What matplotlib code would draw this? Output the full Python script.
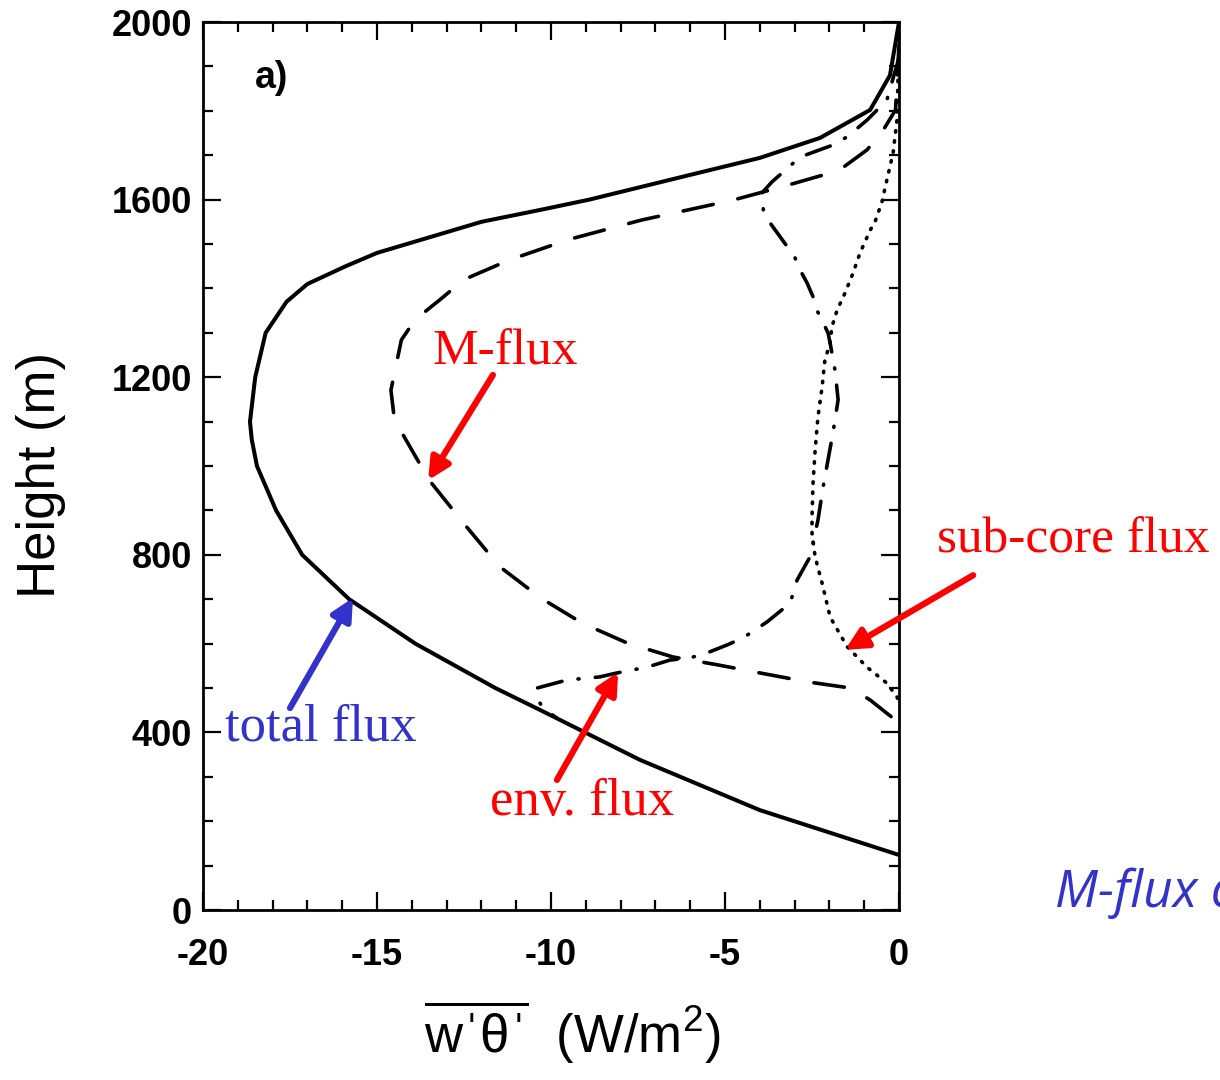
import numpy as np
import matplotlib.pyplot as plt
from matplotlib.ticker import MultipleLocator

# total flux (solid)
total_x = [0, -0.26, -0.83, -2.27, -4.0, -6.3, -8.9, -10.3, -12.0, -13.5, -15.0, -15.9, -17.0,
           -17.6, -18.2, -18.5, -18.65, -18.6, -18.45, -17.9, -17.15, -15.8, -13.9, -11.6,
           -10.3, -7.44, -4.0, 0]
total_h = [2000, 1880, 1802, 1739, 1694, 1650, 1600, 1577, 1550, 1515, 1480, 1450, 1410,
           1370, 1300, 1200, 1100, 1060, 1000, 900, 800, 700, 600, 500,
           450, 338, 225, 124]

# M-flux (dashed)
mflux_x = [0, -0.1, -0.49, -0.92, -1.6, -2.2, -3.4, -4.77, -5.7, -7.4, -9.5, -11.2, -12.5,
           -13.2, -13.9, -14.3, -14.6, -14.5, -13.5, -12.5, -11.47, -10.3, -9.1, -7.8,
           -6.5, -5.2, -4.0, -2.64, -1.4, -0.83, -0.17, 0]
mflux_h = [1950, 1802, 1752, 1712, 1673, 1655, 1628, 1599, 1583, 1554, 1510, 1464, 1420,
           1374, 1330, 1284, 1171, 1104, 968, 870, 773, 703, 646, 601,
           570, 552, 534, 514, 500, 473, 432, 394]

# env. flux (dash-dot)
env_x = [0, -0.35, -0.92, -1.5, -1.9, -2.84, -3.65, -3.94, -3.9, -3.7, -3.0, -2.84, -2.64,
         -2.47, -2.36, -2.04, -1.98, -1.84, -1.75, -1.9, -2.04, -2.18, -2.33, -2.41,
         -2.56, -2.93, -3.13, -3.79, -4.48, -4.94, -5.52, -6.0, -6.58, -7.24, -8.1,
         -8.6, -9.54, -10.4, -10.37, -10.23, -9.83]
env_h = [1920, 1824, 1779, 1741, 1723, 1696, 1640, 1615, 1577, 1547, 1471, 1441, 1412,
         1381, 1351, 1300, 1277, 1216, 1149, 1074, 1014, 953, 878, 849,
         795, 743, 691, 649, 613, 597, 579, 568, 563, 547, 534,
         525, 518, 500, 473, 455, 432]

# sub-core flux (dotted)
sub_x = [0, -0.06, -0.17, -0.35, -0.49, -0.69, -0.83, -1.12, -1.32, -1.55, -1.78, -1.93,
         -1.98, -2.13, -2.21, -2.33, -2.41, -2.47, -2.5, -2.5, -2.41, -2.21, -1.98,
         -1.49, -0.92, -0.35, -0.06, 0]
sub_h = [1960, 1779, 1705, 1644, 1595, 1550, 1531, 1480, 1435, 1390, 1351, 1313,
         1277, 1239, 1178, 1110, 1036, 962, 885, 849, 795, 736, 660,
         593, 547, 511, 480, 470]

# ----------------(figure)----------------

fig = plt.figure(figsize=(12.2, 10.8), dpi=100)
ax = fig.add_axes([0.1664, 0.1574, 0.5705, 0.8222])

lw = 2.6
ax.plot(total_x, total_h, color='black', lw=2.9, solid_joinstyle='round')
ax.plot(mflux_x, mflux_h, color='black', lw=lw, linestyle=(0, (8.5, 7)),
        dash_capstyle='round')
ax.plot(env_x, env_h, color='black', lw=lw, linestyle=(0, (7, 4.5, 0.3, 4.5)),
        dash_capstyle='round')
ax.plot(sub_x, sub_h, color='black', lw=lw, linestyle=(0, (0.4, 2.4)),
        dash_capstyle='round')

ax.set_xlim(-20, 0)
ax.set_ylim(0, 2000)
ax.xaxis.set_major_locator(MultipleLocator(5))
ax.xaxis.set_minor_locator(MultipleLocator(1))
ax.yaxis.set_major_locator(MultipleLocator(400))
ax.yaxis.set_minor_locator(MultipleLocator(100))
ax.tick_params(which='both', direction='in', top=True, right=True, width=1.6)
ax.tick_params(which='major', length=13)
ax.tick_params(which='minor', length=7)
ax.tick_params(axis='x', which='major', pad=20)
ax.tick_params(axis='y', which='major', pad=8)
for s in ax.spines.values():
    s.set_linewidth(2.0)

ax.set_xticks([-20, -15, -10, -5, 0])
ax.set_xticklabels(['-20', '-15', '-10', '-5', '0'])
for lab in ax.get_xticklabels() + ax.get_yticklabels():
    lab.set_fontfamily('Liberation Sans')
    lab.set_fontweight('bold')
    lab.set_fontsize(26)

ax.set_ylabel('Height (m)', fontsize=38, family='Liberation Sans')
ax.yaxis.set_label_coords(-0.197, 0.49)
ax.set_xlabel("$\\overline{\\mathregular{w\u02c8\u03b8\u02c8}}$  (W/m$^\\mathregular{2}$)",
              fontsize=38, family=['Liberation Sans', 'DejaVu Sans'])
ax.xaxis.set_label_coords(0.53, -0.1)

ax.text(-18.5, 1874, 'a)', fontsize=27, fontweight='bold', family='Liberation Sans',
        va='center', ha='left')

# ----------------(annotations)----------------

red = '#ff0000'
blue = '#3333cc'
arr = dict(arrowstyle='-|>', lw=4.5, mutation_scale=32, shrinkA=0, shrinkB=0)

ax.annotate('', xy=(-13.53, 968), xytext=(-11.67, 1205), arrowprops=dict(color=red, **arr))
ax.text(-11.32, 1257, 'M-flux', color=red, fontsize=37, family='Liberation Serif',
        ha='center', va='center')

ax.annotate('', xy=(-1.55, 586), xytext=(2.13, 754), arrowprops=dict(color=red, **arr),
            annotation_clip=False)
ax.text(5.0, 833, 'sub-core flux', color=red, fontsize=37, family='Liberation Serif',
        ha='center', va='center', clip_on=False)

ax.annotate('', xy=(-8.07, 536), xytext=(-9.83, 293), arrowprops=dict(color=red, **arr))
ax.text(-9.11, 243, 'env. flux', color=red, fontsize=38, family='Liberation Serif',
        ha='center', va='center')

ax.annotate('', xy=(-15.69, 703), xytext=(-17.5, 455), arrowprops=dict(color=blue, **arr))
ax.text(-19.37, 410, 'total flux', color=blue, fontsize=38, family='Liberation Serif',
        ha='left', va='center')

# this caption runs off the right edge in the original too
fig.text(0.8648, 0.173, 'M-flux calculation', color=blue, fontsize=37, style='italic',
         family='Open Sans', ha='left', va='center')

plt.savefig('out.png', dpi=100)
